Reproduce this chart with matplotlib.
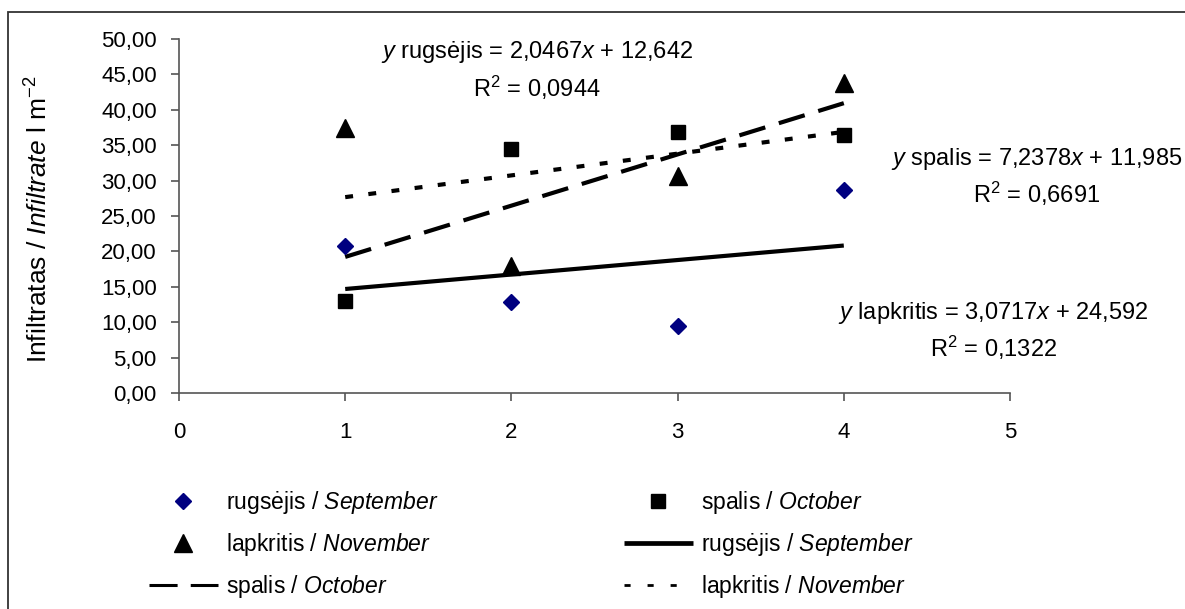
import matplotlib
matplotlib.use("Agg")
import matplotlib.pyplot as plt
from matplotlib.lines import Line2D
from matplotlib.patches import Rectangle
from matplotlib.ticker import FuncFormatter

plt.rcParams['font.family'] = ['Liberation Sans', 'DejaVu Sans']
plt.rcParams['mathtext.fontset'] = 'custom'
plt.rcParams['mathtext.rm'] = 'Liberation Sans'
plt.rcParams['mathtext.it'] = 'Liberation Sans:italic'

# data
months = [1, 2, 3, 4]
rugsejis = [20.7, 12.8, 9.4, 28.7]
spalis = [13.0, 34.5, 36.9, 36.4]
lapkritis = [37.5, 18.0, 30.6, 43.8]

# trend line coefficients (slope, intercept) from the equation labels
fit_rugsejis = (2.0467, 12.642)
fit_spalis = (7.2378, 11.985)
fit_lapkritis = (3.0717, 24.592)

yticks = [0, 5, 10, 15, 20, 25, 30, 35, 40, 45, 50]
xticks = [0, 1, 2, 3, 4, 5]

fig = plt.figure(figsize=(11.85, 6.09), dpi=100)
ax = fig.add_axes([179/1185, 1 - 393/609, 831/1185, (393 - 39)/609])

# outer chart border (cropped at right and bottom)
fig.patches.append(Rectangle((8/1185, -0.1), 1.2, 1 - 12/609 + 0.1,
                             transform=fig.transFigure, fill=False,
                             edgecolor='#333333', lw=1.3))

def trend(fit):
    xs = [months[0], months[-1]]
    return xs, [fit[0]*x + fit[1] for x in xs]

ax.plot(*trend(fit_rugsejis), color='black', lw=3.0, solid_capstyle='butt')
ax.plot(*trend(fit_spalis), color='black', lw=3.0, dashes=(6.5, 3.4), dash_capstyle='butt')
ax.plot(*trend(fit_lapkritis), color='black', lw=3.0, dashes=(1.9, 3.7), dash_capstyle='butt')

ax.plot(months, rugsejis, 'D', color='#000080', ms=8.5, ls='none')
ax.plot(months, spalis, 's', color='black', ms=10.5, ls='none')
ax.plot(months, lapkritis, '^', color='black', ms=12.5, ls='none')

ax.set_xlim(0, 5)
ax.set_ylim(0, 50)
ax.set_xticks(xticks)
ax.set_yticks(yticks)
ax.yaxis.set_major_formatter(FuncFormatter(lambda v, p: f"{v:.2f}".replace('.', ',')))
for s in ['top', 'right']:
    ax.spines[s].set_visible(False)
for s in ['left', 'bottom']:
    ax.spines[s].set_color('#555555')
    ax.spines[s].set_linewidth(1.2)
ax.tick_params(axis='both', direction='out', length=6, width=1.2, color='#555555',
               labelsize=16)
ax.tick_params(axis='y', pad=10)
ax.tick_params(axis='x', pad=15)

ax.set_ylabel(r"Infiltratas / $\mathit{Infiltrate}$ l m$^{-2}$", fontsize=19)
ax.yaxis.set_label_coords(-0.152, 0.49)

# equation labels
def eq(x, y, name, fit, r2):
    a = f"{fit[0]:.4f}".replace('.', ',')
    b = f"{fit[1]:.3f}".replace('.', ',')
    ax.text(x, y, r"$\mathit{y}$ " + name + " = " + a + r"$\mathit{x}$ + " + b,
            ha='center', va='center', fontsize=17, clip_on=False)
    ax.text(x, y - 5.0, r"R$^{2}$ = " + r2, ha='center', va='center',
            fontsize=17, clip_on=False)

eq(2.154, 48.1, "rugsėjis", fit_rugsejis, "0,0944")
eq(5.16, 33.1, "spalis", fit_spalis, "0,6691")
eq(4.9, 11.3, "lapkritis", fit_lapkritis, "0,1322")

handles = [
    Line2D([], [], marker='D', color='#000080', ms=8.5, ls='none'),
    Line2D([], [], marker='^', color='black', ms=12.5, ls='none'),
    Line2D([], [], color='black', lw=2.2, dashes=(9.2, 4.3), dash_capstyle='butt'),
    Line2D([], [], marker='s', color='black', ms=10.5, ls='none'),
    Line2D([], [], color='black', lw=3.4, solid_capstyle='butt'),
    Line2D([], [], color='black', lw=2.0, dashes=(2.2, 6.1), dash_capstyle='butt'),
]
labels = [
    r"rugsėjis / $\mathit{September}$",
    r"lapkritis / $\mathit{November}$",
    r"spalis / $\mathit{October}$",
    r"spalis / $\mathit{October}$",
    r"rugsėjis / $\mathit{September}$",
    r"lapkritis / $\mathit{November}$",
]
fig.legend(handles, labels, ncol=2, loc='upper left',
           bbox_to_anchor=(149/1185, 1 - 489/609), frameon=False,
           fontsize=16.5, handlelength=3.0, handletextpad=0.35,
           columnspacing=8.1, labelspacing=0.66, borderpad=0, borderaxespad=0)

fig.savefig("out.png", dpi=100)
